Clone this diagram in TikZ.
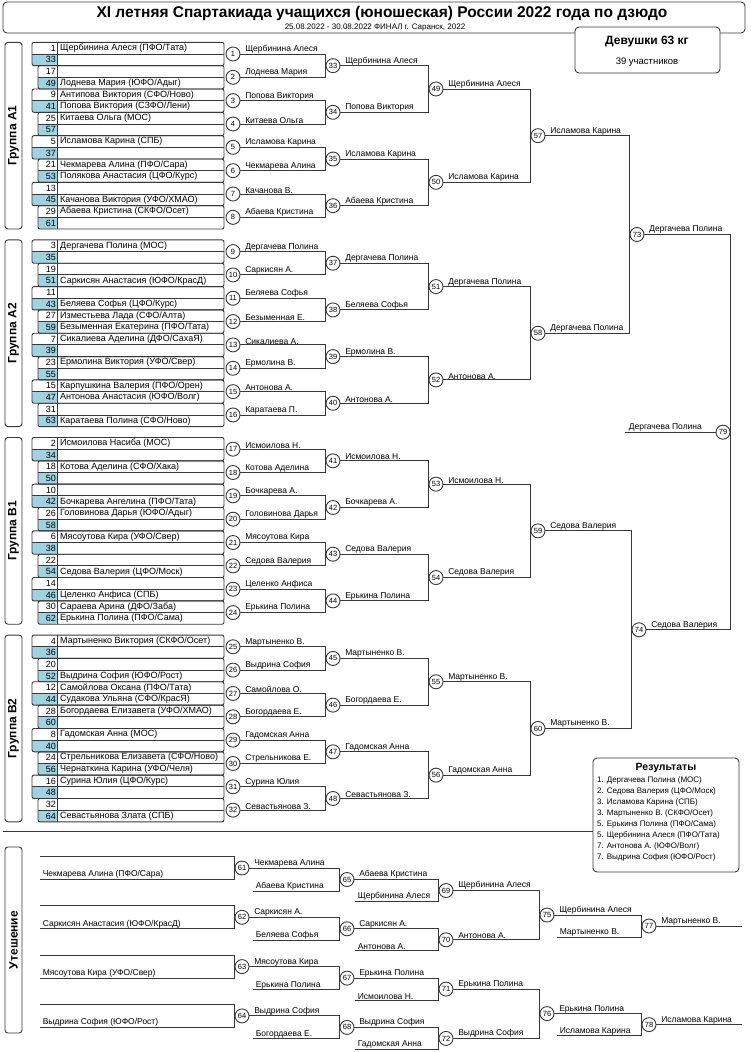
\documentclass[tikz,border=0pt]{standalone}
\usepackage{fontspec}
\setmainfont{Liberation Sans}
\usetikzlibrary{calc}
\definecolor{cellblue}{RGB}{160,210,225}
\definecolor{lncol}{gray}{0.22}
\tikzset{
 ln/.style={draw=lncol, line width=0.9pt},
 num/.style={circle, draw=lncol, line width=0.9pt, fill=white, minimum size=14pt, inner sep=0pt, font=\fontsize{7.5}{7.5}\selectfont},
 lbl/.style={anchor=south west, inner sep=0.6pt, font=\fontsize{8.5}{8.5}\selectfont},
 ent/.style={anchor=west, inner sep=0pt, font=\fontsize{9}{9}\selectfont},
 entn/.style={anchor=east, inner sep=0pt, font=\fontsize{9}{9}\selectfont},
 grp/.style={ln, rounded corners=3pt},
 grpt/.style={rotate=90, font=\bfseries\fontsize{12}{12}\selectfont},
}
\newcommand\E[4]{%
 \pgfmathsetmacro\yy{42.3+#1*197.6+(#2+0.5)*11.67}%
 \node[entn] at (56,\yy) {#3};%
 \node[ent] at (60,\yy) {#4};}
\begin{document}
\begin{tikzpicture}[x=1pt,y=-1pt]
\useasboundingbox (0,0) rectangle (750,1052);
% title
\draw[ln, rounded corners=4pt] (3,2) rectangle (745,33);
\node[font=\bfseries\fontsize{15.5}{15.5}\selectfont] (title) at (382,13) {XI летняя Спартакиада учащихся (юношеская) России 2022 года по дзюдо};
\node[font=\fontsize{8}{8}\selectfont] (sub) at (375,28) {25.08.2022 - 30.08.2022 ФИНАЛ г. Саранск, 2022};
\draw[ln, rounded corners=4pt, fill=white] (575,27) rectangle (720,73);
\node[font=\bfseries\fontsize{12}{12}\selectfont] (cat) at (647,42) {Девушки 63 кг};
\node[font=\fontsize{9.5}{9.5}\selectfont] (cnt) at (647,62) {39 участников};
% groups
\foreach \g/\t in {0/A1,1/A2,2/B1,3/B2}{
 \pgfmathsetmacro\yt{42.3+\g*197.6}
 \draw[grp] (5,\yt) rectangle (22,{\yt+186.7});
 \node[grpt] (g\t) at (13.5,{\yt+93.3}) {Группа \t};
 \foreach \p in {0,...,7}{
  \pgfmathsetmacro\ya{\yt+2*\p*11.67}
  \pgfmathsetmacro\xa{ifthenelse(mod(\p,2)==0,32,38)}
  \fill[cellblue, rounded corners=2pt] (\xa,{\ya+11.67}) rectangle (57,{\ya+23.34});
  \draw[ln, rounded corners=2pt] (\xa,\ya) rectangle (224,{\ya+23.34});
  \draw[ln] (\xa,{\ya+11.67}) -- (224,{\ya+11.67});
  \draw[ln] (57,\ya) -- (57,{\ya+23.34});
 }
 \foreach \p in {0,...,7}{
  \pgfmathtruncatemacro\n{8*\g+\p+1}
  \pgfmathsetmacro\yc{\yt+(2*\p+1)*11.67}
  \node[num] (c\n) at (233,\yc) {\n};}
 \foreach \q in {0,...,3}{
  \pgfmathtruncatemacro\n{33+4*\g+\q}
  \pgfmathsetmacro\yc{\yt+(4*\q+2)*11.67}
  \node[num] (c\n) at (333,\yc) {\n};}
 \foreach \s in {0,1}{
  \pgfmathtruncatemacro\n{49+2*\g+\s}
  \pgfmathsetmacro\yc{\yt+(8*\s+4)*11.67}
  \node[num] (c\n) at (436,\yc) {\n};}
 \pgfmathtruncatemacro\n{57+\g}
 \pgfmathsetmacro\yc{\yt+8*11.67}
 \node[num] (c\n) at (538,\yc) {\n};
}
\node[num] (c73) at (637,234.5) {73};
\node[num] (c74) at (639,629.8) {74};
\node[num] (c79) at (723,432.2) {79};
\coordinate (f79) at (625,432.2);
% brackets
\foreach \n in {33,...,48}{\pgfmathtruncatemacro\a{2*(\n-33)+1}\pgfmathtruncatemacro\b{\a+1}
 \draw[ln] (c\a.east) -| (c\n.west) |- (c\b.east);}
\foreach \n in {49,...,56}{\pgfmathtruncatemacro\a{2*(\n-49)+33}\pgfmathtruncatemacro\b{\a+1}
 \draw[ln] (c\a.east) -| (c\n.west) |- (c\b.east);}
\foreach \n in {57,...,60}{\pgfmathtruncatemacro\a{2*(\n-57)+49}\pgfmathtruncatemacro\b{\a+1}
 \draw[ln] (c\a.east) -| (c\n.west) |- (c\b.east);}
\draw[ln] (c57.east) -| (c73.west) |- (c58.east);
\draw[ln] (c59.east) -| (c74.west) |- (c60.east);
\draw[ln] (c73.east) -| (c79.east) |- (c74.east);
\draw[ln] (f79) -- (c79.west);
\node[lbl] at ($(f79)+(3,0)$) {Дергачева Полина};
\foreach \n/\t in {1/Щербинина Алеся,2/Лоднева Мария,3/Попова Виктория,4/Китаева Ольга,5/Исламова Карина,6/Чекмарева Алина,7/Качанова В.,8/Абаева Кристина,
9/Дергачева Полина,10/Саркисян А.,11/Беляева Софья,12/Безыменная Е.,13/Сикалиева А.,14/Ермолина В.,15/Антонова А.,16/Каратаева П.,
17/Исмоилова Н.,18/Котова Аделина,19/Бочкарева А.,20/Головинова Дарья,21/Мясоутова Кира,22/Седова Валерия,23/Целенко Анфиса,24/Ерькина Полина,
25/Мартыненко В.,26/Выдрина София,27/Самойлова О.,28/Богордаева Е.,29/Гадомская Анна,30/Стрельникова Е.,31/Сурина Юлия,32/Севастьянова З.,
33/Щербинина Алеся,34/Попова Виктория,35/Исламова Карина,36/Абаева Кристина,37/Дергачева Полина,38/Беляева Софья,39/Ермолина В.,40/Антонова А.,
41/Исмоилова Н.,42/Бочкарева А.,43/Седова Валерия,44/Ерькина Полина,45/Мартыненко В.,46/Богордаева Е.,47/Гадомская Анна,48/Севастьянова З.,
49/Щербинина Алеся,50/Исламова Карина,51/Дергачева Полина,52/Антонова А.,53/Исмоилова Н.,54/Седова Валерия,55/Мартыненко В.,56/Гадомская Анна,
57/Исламова Карина,58/Дергачева Полина,59/Седова Валерия,60/Мартыненко В.,73/Дергачева Полина,74/Седова Валерия}
 {\node[lbl] at ($(c\n.east)+(4,0)$) {\t};}
% entries
\E{0}{0}{1}{Щербинина Алеся (ПФО/Тата)}\E{0}{1}{33}{}\E{0}{2}{17}{}\E{0}{3}{49}{Лоднева Мария (ЮФО/Адыг)}
\E{0}{4}{9}{Антипова Виктория (СФО/Ново)}\E{0}{5}{41}{Попова Виктория (СЗФО/Лени)}\E{0}{6}{25}{Китаева Ольга (МОС)}\E{0}{7}{57}{}
\E{0}{8}{5}{Исламова Карина (СПБ)}\E{0}{9}{37}{}\E{0}{10}{21}{Чекмарева Алина (ПФО/Сара)}\E{0}{11}{53}{Полякова Анастасия (ЦФО/Курс)}
\E{0}{12}{13}{}\E{0}{13}{45}{Качанова Виктория (УФО/ХМАО)}\E{0}{14}{29}{Абаева Кристина (СКФО/Осет)}\E{0}{15}{61}{}
\E{1}{0}{3}{Дергачева Полина (МОС)}\E{1}{1}{35}{}\E{1}{2}{19}{}\E{1}{3}{51}{Саркисян Анастасия (ЮФО/КрасД)}
\E{1}{4}{11}{}\E{1}{5}{43}{Беляева Софья (ЦФО/Курс)}\E{1}{6}{27}{Изместьева Лада (СФО/Алта)}\E{1}{7}{59}{Безыменная Екатерина (ПФО/Тата)}
\E{1}{8}{7}{Сикалиева Аделина (ДФО/СахаЯ)}\E{1}{9}{39}{}\E{1}{10}{23}{Ермолина Виктория (УФО/Свер)}\E{1}{11}{55}{}
\E{1}{12}{15}{Карпушкина Валерия (ПФО/Орен)}\E{1}{13}{47}{Антонова Анастасия (ЮФО/Волг)}\E{1}{14}{31}{}\E{1}{15}{63}{Каратаева Полина (СФО/Ново)}
\E{2}{0}{2}{Исмоилова Насиба (МОС)}\E{2}{1}{34}{}\E{2}{2}{18}{Котова Аделина (СФО/Хака)}\E{2}{3}{50}{}
\E{2}{4}{10}{}\E{2}{5}{42}{Бочкарева Ангелина (ПФО/Тата)}\E{2}{6}{26}{Головинова Дарья (ЮФО/Адыг)}\E{2}{7}{58}{}
\E{2}{8}{6}{Мясоутова Кира (УФО/Свер)}\E{2}{9}{38}{}\E{2}{10}{22}{}\E{2}{11}{54}{Седова Валерия (ЦФО/Моск)}
\E{2}{12}{14}{}\E{2}{13}{46}{Целенко Анфиса (СПБ)}\E{2}{14}{30}{Сараева Арина (ДФО/Заба)}\E{2}{15}{62}{Ерькина Полина (ПФО/Сама)}
\E{3}{0}{4}{Мартыненко Виктория (СКФО/Осет)}\E{3}{1}{36}{}\E{3}{2}{20}{}\E{3}{3}{52}{Выдрина София (ЮФО/Рост)}
\E{3}{4}{12}{Самойлова Оксана (ПФО/Тата)}\E{3}{5}{44}{Судакова Ульяна (СФО/КрасЯ)}\E{3}{6}{28}{Богордаева Елизавета (УФО/ХМАО)}\E{3}{7}{60}{}
\E{3}{8}{8}{Гадомская Анна (МОС)}\E{3}{9}{40}{}\E{3}{10}{24}{Стрельникова Елизавета (СФО/Ново)}\E{3}{11}{56}{Чернаткина Карина (УФО/Челя)}
\E{3}{12}{16}{Сурина Юлия (ЦФО/Курс)}\E{3}{13}{48}{}\E{3}{14}{32}{}\E{3}{15}{64}{Севастьянова Злата (СПБ)}
% results
\draw[ln] (3,831) -- (593,831);
\draw[ln, rounded corners=4pt, fill=white] (593,758) rectangle (739,872);
\node[font=\bfseries\fontsize{10.5}{10.5}\selectfont] (res) at (666,768) {Результаты};
\foreach \i/\t in {0/{1. Дергачева Полина (МОС)},1/{2. Седова Валерия (ЦФО/Моск)},2/{3. Исламова Карина (СПБ)},3/{3. Мартыненко В. (СКФО/Осет)},4/{5. Ерькина Полина (ПФО/Сама)},5/{5. Щербинина Алеся (ПФО/Тата)},6/{7. Антонова А. (ЮФО/Волг)},7/{7. Выдрина София (ЮФО/Рост)}}
 {\pgfmathsetmacro\yr{780+\i*11}
  \node[anchor=west, inner sep=0pt, font=\fontsize{8}{8}\selectfont] at (597,\yr) {\t};}
% consolation
\draw[grp] (5,847) rectangle (22,1033);
\node[grpt] (gU) at (13.5,940) {Утешение};
\foreach \k/\t in {0/{Чекмарева Алина (ПФО/Сара)},1/{Саркисян Анастасия (ЮФО/КрасД)},2/{Мясоутова Кира (УФО/Свер)},3/{Выдрина София (ЮФО/Рост)}}{
 \pgfmathsetmacro\yc{868+\k*49.3}
 \pgfmathsetmacro\ycb{\yc+11.5}
 \pgfmathsetmacro\ycc{\yc+22.5}
 \pgfmathsetmacro\yta{\yc-11.5}
 \pgfmathsetmacro\ytb{\yc+23}
 \pgfmathsetmacro\ytc{\yc+33.5}
 \pgfmathtruncatemacro\a{61+\k}\pgfmathtruncatemacro\b{65+\k}\pgfmathtruncatemacro\c{69+\k}
 \node[num] (c\a) at (242,\yc) {\a};
 \node[num] (c\b) at (347,\ycb) {\b};
 \node[num] (c\c) at (446,\ycc) {\c};
 \coordinate (t\a) at (40,\yta);
 \coordinate (b\a) at (40,\ycb);
 \coordinate (b\b) at (253,\ytb);
 \coordinate (b\c) at (355,\ytc);
 \draw[ln] (t\a) -| (c\a.west) |- (b\a);
 \draw[ln] (c\a.east) -| (c\b.west) |- (b\b);
 \draw[ln] (c\b.east) -| (c\c.west) |- (b\c);
 \node[lbl] at ($(b\a)+(2,0)$) {\t};
}
\node[num] (c75) at (547,915) {75};
\node[num] (c76) at (547,1013.6) {76};
\node[num] (c77) at (649,926) {77};
\node[num] (c78) at (649,1024.6) {78};
\coordinate (b77) at (557,937);
\coordinate (b78) at (557,1035.6);
\coordinate (e77) at (742,926);
\coordinate (e78) at (742,1024.6);
\draw[ln] (c69.east) -| (c75.west) |- (c70.east);
\draw[ln] (c71.east) -| (c76.west) |- (c72.east);
\draw[ln] (c75.east) -| (c77.west) |- (b77);
\draw[ln] (c76.east) -| (c78.west) |- (b78);
\draw[ln] (c77.east) -- (e77);
\draw[ln] (c78.east) -- (e78);
\foreach \n/\t in {61/Чекмарева Алина,62/Саркисян А.,63/Мясоутова Кира,64/Выдрина София,65/Абаева Кристина,66/Саркисян А.,67/Ерькина Полина,68/Выдрина София,69/Щербинина Алеся,70/Антонова А.,71/Ерькина Полина,72/Выдрина София,75/Щербинина Алеся,76/Ерькина Полина,77/Мартыненко В.,78/Исламова Карина}
 {\node[lbl] at ($(c\n.east)+(4,0)$) {\t};}
\foreach \n/\t in {65/Абаева Кристина,66/Беляева Софья,67/Ерькина Полина,68/Богордаева Е.,69/Щербинина Алеся,70/Антонова А.,71/Исмоилова Н.,72/Гадомская Анна,77/Мартыненко В.,78/Исламова Карина}
 {\node[lbl] at ($(b\n)+(2,0)$) {\t};}
\end{tikzpicture}
\end{document}
